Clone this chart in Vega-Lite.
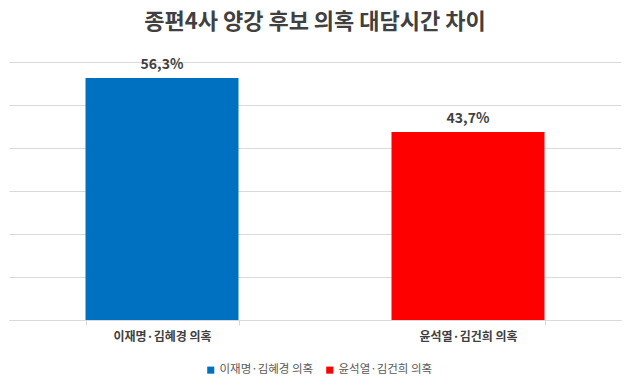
{
  "$schema": "https://vega.github.io/schema/vega-lite/v6.json",
  "width": 612,
  "height": 258,
  "autosize": {"type": "none"},
  "padding": {"left": 9, "top": 62, "right": 4, "bottom": 67},
  "background": "white",
  "title": {
    "text": "종편4사 양강 후보 의혹 대담시간 차이",
    "font": "Noto Sans CJK KR",
    "fontSize": 22,
    "fontWeight": "bold",
    "color": "#404040",
    "anchor": "middle",
    "offset": 24
  },
  "data": {
    "values": [
      {"category": "이재명·김혜경 의혹", "value": 56.3, "label": "56,3%"},
      {"category": "윤석열·김건희 의혹", "value": 43.7, "label": "43,7%"}
    ]
  },
  "config": {
    "view": {"stroke": null},
    "font": "Noto Sans CJK KR"
  },
  "encoding": {
    "x": {
      "field": "category",
      "type": "nominal",
      "sort": null,
      "scale": {"paddingInner": 0.5, "paddingOuter": 0.25},
      "axis": {
        "title": null,
        "labelAngle": 0,
        "labelFont": "Noto Sans CJK KR",
        "labelFontSize": 12,
        "labelFontWeight": "bold",
        "labelColor": "#404040",
        "labelPadding": 6,
        "domainColor": "#d9d9d9",
        "tickColor": "#d9d9d9",
        "tickBand": "extent",
        "tickSize": 5,
        "grid": false
      }
    },
    "y": {
      "field": "value",
      "type": "quantitative",
      "scale": {"domain": [0, 60], "nice": false},
      "axis": {
        "title": null,
        "labels": false,
        "ticks": false,
        "domain": false,
        "values": [0, 10, 20, 30, 40, 50, 60],
        "gridColor": "#d9d9d9",
        "gridWidth": 1
      }
    }
  },
  "layer": [
    {
      "mark": {"type": "bar"},
      "encoding": {
        "color": {
          "field": "category",
          "type": "nominal",
          "sort": null,
          "scale": {"range": ["#0070C0", "#FF0000"]},
          "legend": {
            "title": null,
            "orient": "none",
            "legendX": 196,
            "legendY": 302,
            "direction": "horizontal",
            "symbolType": "square",
            "symbolSize": 50,
            "symbolStrokeWidth": 0,
            "labelFont": "Noto Sans CJK KR",
            "labelFontSize": 11.5,
            "labelColor": "#595959",
            "columnPadding": 10,
            "labelOffset": 3
          }
        }
      }
    },
    {
      "mark": {
        "type": "text",
        "baseline": "bottom",
        "dy": -6,
        "font": "Noto Sans CJK KR",
        "fontSize": 14,
        "fontWeight": "bold",
        "color": "#404040"
      },
      "encoding": {
        "text": {"field": "label"}
      }
    }
  ]
}
